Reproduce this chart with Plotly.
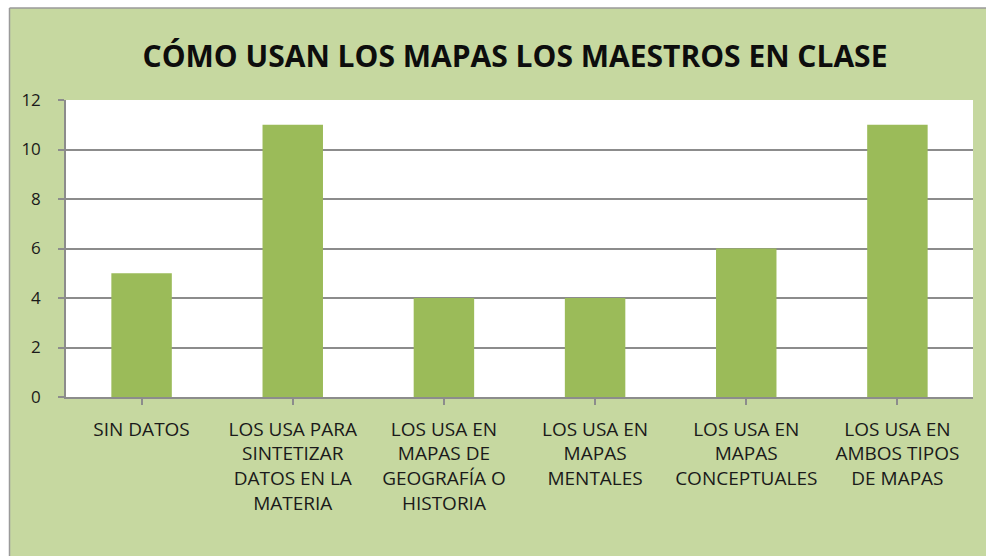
import plotly.graph_objects as go

categories = ["SIN DATOS",
              "LOS USA PARA<br>SINTETIZAR<br>DATOS EN LA<br>MATERIA",
              "LOS USA EN<br>MAPAS DE<br>GEOGRAFÍA O<br>HISTORIA",
              "LOS USA EN<br>MAPAS<br>MENTALES",
              "LOS USA EN<br>MAPAS<br>CONCEPTUALES",
              "LOS USA EN<br>AMBOS TIPOS<br>DE MAPAS"]
values = [5, 11, 4, 4, 6, 11]
y_ticks = [0, 2, 4, 6, 8, 10, 12]
title = "CÓMO USAN LOS MAPAS LOS MAESTROS EN CLASE"

W, H = 986, 556
L, R, T, B = 66, 13, 100, 159
pw, ph = W - L - R, H - T - B

bg = "#c6d8a0"
bar = "#9bbb59"
grid = "#8c8c8c"
txt = "#1a1a1a"

fig = go.Figure(go.Bar(x=list(range(len(categories))), y=values,
                       marker=dict(color=bar, line=dict(width=0)),
                       width=0.4))

def px_x(p):
    return (p - L) / pw

def px_y(p):
    return (H - B - p) / ph

# white strips outside the chart frame (top and left) with gray frame lines
fig.add_shape(type="rect", xref="paper", yref="paper",
              x0=px_x(-5), x1=px_x(W + 5), y0=px_y(8), y1=px_y(-5),
              fillcolor="white", line=dict(width=0), layer="below")
fig.add_shape(type="rect", xref="paper", yref="paper",
              x0=px_x(-5), x1=px_x(9.5), y0=px_y(H + 5), y1=px_y(-5),
              fillcolor="white", line=dict(width=0), layer="below")
fig.add_shape(type="line", xref="paper", yref="paper",
              x0=px_x(9.5), x1=px_x(W + 5), y0=px_y(8), y1=px_y(8),
              line=dict(color="#9a9a9a", width=1.5))
fig.add_shape(type="line", xref="paper", yref="paper",
              x0=px_x(9.5), x1=px_x(9.5), y0=px_y(8), y1=px_y(H + 5),
              line=dict(color="#9a9a9a", width=1.5))

fig.update_layout(
    width=W, height=H,
    margin=dict(l=L, r=R, t=T, b=B, pad=0, autoexpand=False),
    paper_bgcolor=bg, plot_bgcolor="white",
    showlegend=False,
    title=dict(text="<b>" + title + "</b>", x=(515 / W), xanchor="center",
               y=1 - 56 / H, yanchor="middle",
               font=dict(family="Open Sans", size=30, color="#0d0d0d")),
    font=dict(family="Open Sans", color=txt),
)
fig.update_xaxes(tickmode="array", tickvals=list(range(len(categories))),
                 ticktext=categories, tickson="boundaries",
                 ticks="outside", ticklen=6, tickcolor=grid, tickwidth=1.5,
                 showline=True, linecolor=grid, linewidth=1.5,
                 showgrid=False, range=[-0.5, len(categories) - 0.5],
                 tickfont=dict(size=19, color=txt), tickangle=0,
                 automargin=False, ticklabelstandoff=8)
fig.update_yaxes(range=[0, 12], tickvals=y_ticks, ticks="outside", ticklen=6,
                 tickcolor=grid, tickwidth=1.5, showline=True, linecolor=grid,
                 linewidth=1.5, showgrid=True, gridcolor=grid, gridwidth=1.5,
                 zeroline=False, tickfont=dict(size=17, color=txt),
                 automargin=False, ticklabelstandoff=14)

fig.write_html("out.html", config={"displayModeBar": False},
               post_script="document.body.style.margin='0';"
                           "document.body.style.overflow='hidden';")
